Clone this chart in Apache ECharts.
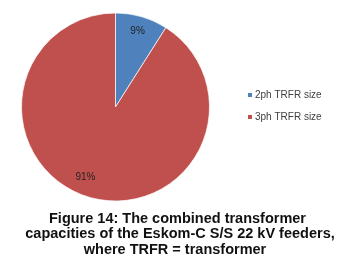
<!DOCTYPE html>
<html><head><meta charset="utf-8">
<script src="https://cdn.jsdelivr.net/npm/echarts@6/dist/echarts.min.js"></script>
<style>html,body{margin:0;padding:0;background:#fff}#c{width:348px;height:264px}</style>
</head><body><div id="c"></div>
<script>
var categories = ["2ph TRFR size", "3ph TRFR size"];
var values = [9, 91];
var colors = ["#4F81BD", "#C0504D"];
var captionLines = ["Figure 14: The combined transformer", "capacities of the Eskom-C S/S 22 kV feeders,", "where TRFR = transformer"];

// layout-only settings
var captionCenters = [177.5, 180, 175];
var labelOffsets = [[0, 0], [-8, -6]];
var font = 'Liberation Sans, Arial, sans-serif';

var data = categories.map(function (c, i) { return { name: c, value: values[i], itemStyle: { color: colors[i] } }; });
var titles = captionLines.map(function (t, i) {
  return {
    text: t, left: captionCenters[i], top: 210.5 + i * 15.5, textAlign: 'center', padding: 0,
    textStyle: { fontFamily: font, fontWeight: 'bold', fontSize: 14.5, lineHeight: 16, color: '#111' }
  };
});
var chart = echarts.init(document.getElementById('c'), null, { renderer: 'canvas' });
chart.setOption({
  animation: false,
  title: titles,
  legend: {
    orient: 'vertical', left: 246, top: 89, padding: 0,
    itemWidth: 6, itemHeight: 6, itemGap: 10, icon: 'rect',
    data: categories,
    textStyle: { fontFamily: font, fontSize: 10, lineHeight: 12, color: '#404040', padding: [0, 0, 0, -3] }
  },
  series: [{
    type: 'pie', center: [115.5, 107], radius: 94, startAngle: 90, clockwise: true,
    data: data, label: { show: false }, labelLine: { show: false },
    itemStyle: { borderColor: '#fff', borderWidth: 0.7 },
    emphasis: { disabled: true }
  }, {
    type: 'pie', center: [115.5, 107], radius: [58, 94], startAngle: 90, clockwise: true, silent: true,
    legendHoverLink: false,
    data: data.map(function (d, i) {
      return { name: d.name, value: d.value, itemStyle: { color: 'rgba(0,0,0,0)' }, label: { offset: labelOffsets[i] } };
    }),
    itemStyle: { borderWidth: 0 },
    label: { show: true, position: 'inside', formatter: '{c}%', fontFamily: font, fontSize: 10, color: '#222' },
    labelLine: { show: false },
    emphasis: { disabled: true }
  }]
});
</script></body></html>
